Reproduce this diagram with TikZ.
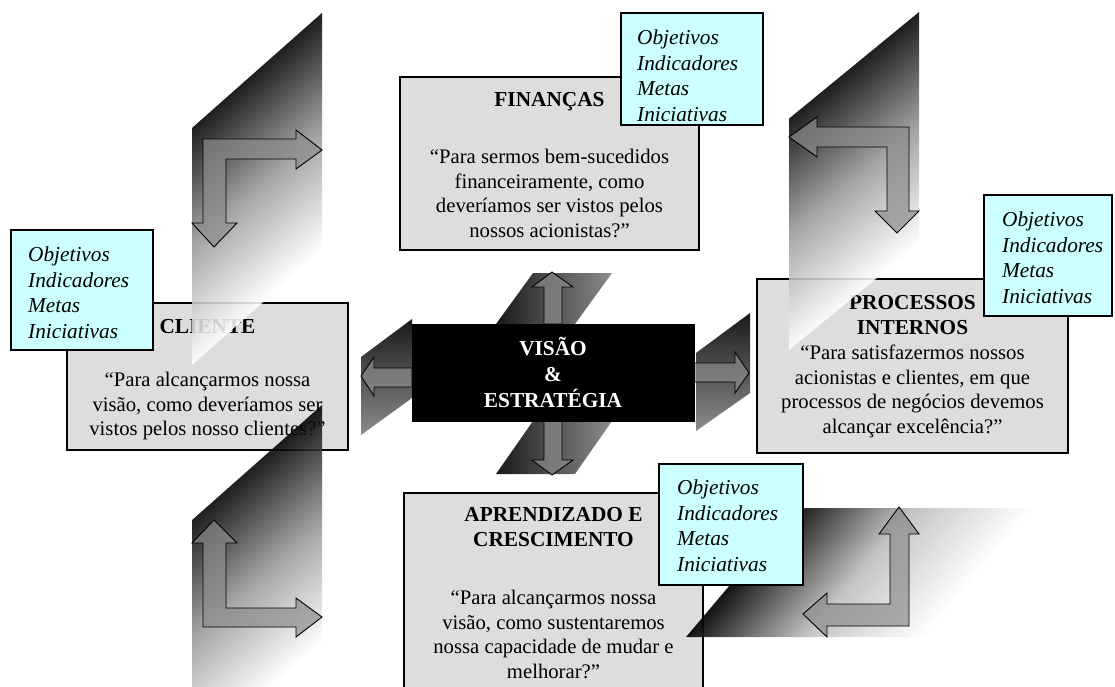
\documentclass[tikz,border=0pt]{standalone}
\usepackage{fontspec}
\setmainfont{Liberation Serif}
\definecolor{boxgray}{HTML}{DDDDDD}
\definecolor{notecyan}{HTML}{CCFFFF}
\newcommand\bodyfont{\fontsize{20.7}{24.5}\selectfont}
\newcommand\titlefont{\fontsize{21.3}{24.5}\selectfont\bfseries}
\newcommand\centerfont{\fontsize{21.3}{26}\selectfont\bfseries}
\newcommand\notefont{\fontsize{21.3}{25.6}\selectfont\itshape}
\tikzset{
  panel/.style={draw=black, line width=1.2pt, fill=boxgray, inner sep=0pt},
  note/.style={draw=black, line width=1.2pt, fill=notecyan, inner sep=0pt},
  txt/.style={inner sep=0pt, anchor=north, align=center},
  notetxt/.style={inner sep=0pt, anchor=north west, align=left, font=\notefont},
  bent/.style={draw=black, line width=0.9pt, fill=black!45, fill opacity=0.7},
  fade/.style={top color=black, bottom color=white, middle color=black!40, opacity=0.88},
  smallfade/.style={opacity=1},
}
\begin{document}
\begin{tikzpicture}[x=1pt,y=-1pt]
\useasboundingbox (0,0) rectangle (1115,686);

% ---------- perspective panels ----------
\node[panel, minimum width=299pt, minimum height=173pt] (fin) at (549.5,163.5) {};
\node[panel, minimum width=281pt, minimum height=147pt] (cli) at (207.5,376.5) {};
\node[panel, minimum width=311pt, minimum height=174pt] (pro) at (912.5,366) {};
\node[panel, minimum width=299pt, minimum height=227pt] (apr) at (553.5,606.5) {};

\node[txt, font=\titlefont] (finT) at (549.5,89.6) {\strut FINANÇAS};
\node[txt, font=\bodyfont] (finB) at (549.5,146.3) {\strut “Para sermos bem-sucedidos\\ financeiramente, como\\ deveríamos ser vistos pelos\\ nossos acionistas?”};

\node[txt, font=\titlefont] (cliT) at (207.5,316.6) {\strut CLIENTE};
\node[txt, font=\bodyfont] (cliB) at (207.5,369.3) {\strut “Para alcançarmos nossa\\ visão, como deveríamos ser\\ vistos pelos nosso clientes?”};

\node[txt, font=\titlefont] (proT) at (912.5,292.6) {\strut PROCESSOS\\ INTERNOS};
\node[txt, font=\bodyfont] (proB) at (912.5,342.3) {\strut “Para satisfazermos nossos\\ acionistas e clientes, em que\\ processos de negócios devemos\\ alcançar excelência?”};

\node[txt, font=\titlefont] (aprT) at (553.5,504.6) {\strut APRENDIZADO E\\ CRESCIMENTO};
\node[txt, font=\bodyfont] (aprB) at (553.5,587.3) {\strut “Para alcançarmos nossa\\ visão, como sustentaremos\\ nossa capacidade de mudar e\\ melhorar?”};

% ---------- central hub: shaded backdrops and arrows ----------
\shade[left color=black!90, right color=black!45] (496,324) -- (533,273) -- (612,273) -- (575,324) -- cycle;
\shade[left color=black!90, right color=black!45] (533,421) -- (612,421) -- (575,474) -- (496,474) -- cycle;
\shade[top color=black!90, bottom color=black!45] (361,357) -- (412,319) -- (412,398) -- (361,435) -- cycle;
\shade[top color=black!90, bottom color=black!45] (696,353) -- (750,313) -- (750,393) -- (696,431) -- cycle;

\draw[bent] (552,272) -- (573,287) -- (562,287) -- (562,324) -- (544,324) -- (544,287) -- (532,287) -- cycle;
\draw[bent] (552,475) -- (573,460) -- (562,460) -- (562,421) -- (544,421) -- (544,460) -- (532,460) -- cycle;
\draw[bent] (361,376) -- (374,357) -- (374,368) -- (412,368) -- (412,387) -- (374,387) -- (374,396) -- cycle;
\draw[bent] (749,373) -- (735,352) -- (735,363) -- (694,363) -- (694,382) -- (735,382) -- (735,393) -- cycle;

\node[draw=black, fill=black, inner sep=0pt, minimum width=282pt, minimum height=97pt] (vis) at (553,372.5) {};
\node[txt, font=\centerfont, text=white] (visT) at (553,336.6) {\strut VISÃO\\ \&\\ ESTRATÉGIA};

% ---------- corner links: slanted shaded bands with bent double arrows ----------
\begin{scope}[transform canvas={yslant=0.885}]
  \shade[fade] (192,297.9) rectangle (322,534.9);
\end{scope}
\draw[bent] (203,139) -- (296,139) -- (296,130) -- (322,150) -- (296,169) -- (296,159)
  -- (226,159) -- (226,223) -- (237,223) -- (214,247) -- (192,223) -- (203,223) -- cycle;

\begin{scope}[transform canvas={yslant=0.82}]
  \shade[fade] (789,765.6) rectangle (919,997);
\end{scope}
\draw[bent] (789,137) -- (817,117) -- (817,127) -- (909,127) -- (909,211) -- (919,211)
  -- (897,233) -- (875,211) -- (887,211) -- (887,147) -- (817,147) -- (817,157) -- cycle;

\begin{scope}[transform canvas={yslant=0.885}]
  \shade[fade] (192,690) rectangle (322,927);
\end{scope}
\draw[bent] (214,520) -- (237,543) -- (226,543) -- (226,608) -- (296,608) -- (296,598)
  -- (322,617) -- (296,637) -- (296,627) -- (203,627) -- (203,543) -- (192,543) -- cycle;

\begin{scope}[transform canvas={xslant=0.845}]
  \shade[left color=black, right color=white, middle color=black!25, opacity=0.92] (1224.3,508) rectangle (1462.3,637);
\end{scope}
\draw[bent] (899,507) -- (919,534) -- (909,534) -- (909,626) -- (827,626) -- (827,637)
  -- (803,614) -- (827,593) -- (827,604) -- (890,604) -- (890,534) -- (879,534) -- cycle;

% ---------- notes ----------
\node[note, minimum width=142pt, minimum height=112pt] (finN) at (692,69) {};
\node[notetxt] (finNT) at (637,26.6) {\strut Objetivos\\ Indicadores\\ Metas\\ Iniciativas};

\node[note, minimum width=128pt, minimum height=121pt] (proN) at (1048,255.5) {};
\node[notetxt] (proNT) at (1002,208.6) {\strut Objetivos\\ Indicadores\\ Metas\\ Iniciativas};

\node[note, minimum width=142pt, minimum height=120pt] (cliN) at (82,290) {};
\node[notetxt] (cliNT) at (28,243.6) {\strut Objetivos\\ Indicadores\\ Metas\\ Iniciativas};

\node[note, minimum width=144pt, minimum height=121pt] (aprN) at (731,524.5) {};
\node[notetxt] (aprNT) at (677,476.6) {\strut Objetivos\\ Indicadores\\ Metas\\ Iniciativas};
\end{tikzpicture}
\end{document}
